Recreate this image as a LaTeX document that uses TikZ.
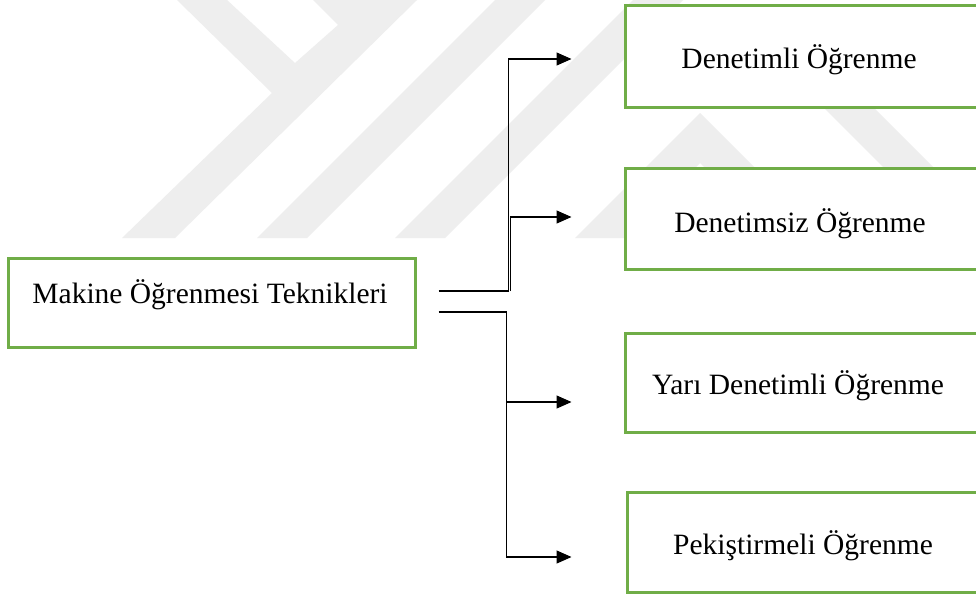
\documentclass[tikz,border=0pt]{standalone}
\usepackage{fontspec}
\setmainfont{Liberation Serif}
\usetikzlibrary{arrows.meta,calc}
\definecolor{boxgreen}{HTML}{70AD47}
\definecolor{wmgray}{HTML}{EEEEEE}
\begin{document}
\begin{tikzpicture}[x=1pt,y=-1pt,
  box/.style={draw=boxgreen, line width=3pt, fill=white, rectangle, inner sep=0pt},
  lbl/.style={font=\fontsize{29.5}{35}\selectfont, inner sep=0pt, anchor=base},
  conn/.style={line width=1.2pt, draw=black},
  tip/.style={-{Triangle[length=15pt,width=13pt]}},
  wm/.style={fill=wmgray, draw=none}]
\useasboundingbox (0,0) rectangle (976,595);
\clip (0,0) rectangle (976,595);
\fill[white] (0,0) rectangle (976,595);

% faint background emblem
\fill[wm] (177,0) -- (227,0) -- (295,63) -- (338,25) -- (313,0) -- (417,0)
  -- (175,238) -- (122,238) -- (272,93) -- cycle;
\fill[wm] (495,0) -- (545,0) -- (307,238) -- (257,238) -- cycle;
\fill[wm] (633,0) -- (683,0) -- (445,238) -- (395,238) -- cycle;
\fill[wm] (700,113) -- (825,238) -- (775,238) -- (700,163) -- (625,238)
  -- (575,238) -- cycle;
\fill[wm] (823,107) -- (873,107) -- (1004,238) -- (954,238) -- cycle;

% boxes
\node[box, minimum width=407pt, minimum height=89pt] (main) at (211.5,302.5) {};
\node[box, minimum width=375pt, minimum height=102pt] (b1) at (812.5,56) {};
\node[box, minimum width=375pt, minimum height=101pt] (b2) at (812.5,218.5) {};
\node[box, minimum width=375pt, minimum height=99pt] (b3) at (812.5,382.5) {};
\node[box, minimum width=375pt, minimum height=100pt] (b4) at (814.5,542) {};

% labels
\node[lbl] (l0) at (210,303) {Makine Öğrenmesi Teknikleri};
\node[lbl] (l1) at (799,68) {Denetimli Öğrenme};
\node[lbl] (l2) at (800,232) {Denetimsiz Öğrenme};
\node[lbl] (l3) at (798,394) {Yarı Denetimli Öğrenme};
\node[lbl] (l4) at (803,554) {Pekiştirmeli Öğrenme};

% connector ends
\coordinate (s1) at ($(main.east)+(22,-11.5)$);
\coordinate (s2) at ($(main.east)+(22,9.5)$);
\coordinate (t1) at ($(b1.west)+(-52,3)$);
\coordinate (t2) at ($(b2.west)+(-52,-1.5)$);
\coordinate (t3) at ($(b3.west)+(-52,19.5)$);
\coordinate (t4) at ($(b4.west)+(-54,15)$);
\coordinate (ja) at ($(s1)+(70,0)$);
\coordinate (jb) at ($(s1)+(72,0)$);
\coordinate (jc) at ($(s2)+(68,0)$);

% connectors
\draw[conn,tip] (s1) -- (s1 -| ja) -- (ja |- t1) -- (t1);
\draw[conn,tip] (s1 -| jb) -- (jb |- t2) -- (t2);
\draw[conn,tip] (s2) -- (s2 -| jc) -- (jc |- t4) -- (t4);
\draw[conn,tip] (jc |- t3) -- (t3);
\end{tikzpicture}
\end{document}
